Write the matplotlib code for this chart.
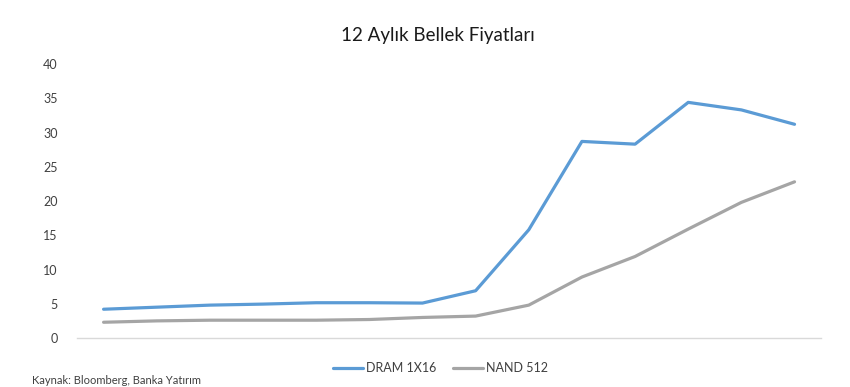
import matplotlib.pyplot as plt

# 14 monthly points, no x labels in the source chart
months = list(range(14))
dram = [4.2, 4.5, 4.8, 4.95, 5.15, 5.15, 5.1, 6.9, 15.8, 28.7, 28.3, 34.4, 33.3, 31.2]
nand = [2.3, 2.5, 2.6, 2.6, 2.6, 2.7, 3.0, 3.2, 4.8, 8.9, 11.9, 15.9, 19.8, 22.8]
y_ticks = [0, 5, 10, 15, 20, 25, 30, 35, 40]

plt.rcParams['font.family'] = ['Lato', 'DejaVu Sans']

fig = plt.figure(figsize=(8.5, 3.87), dpi=100)
ax = fig.add_axes([0.0906, 0.1266, 0.8754, 0.708])

ax.plot(months, dram, color='#5B9BD5', linewidth=2.3, label='DRAM 1X16',
        solid_joinstyle='round', solid_capstyle='round')
ax.plot(months, nand, color='#A5A5A5', linewidth=2.3, label='NAND 512',
        solid_joinstyle='round', solid_capstyle='round')

ax.set_xlim(-0.5, 13.5)
ax.set_ylim(0, 40)
ax.set_yticks(y_ticks)
ax.set_xticks([])
ax.tick_params(axis='y', length=0, pad=14, labelsize=9, labelcolor='#404040')

for s in ['top', 'right', 'left']:
    ax.spines[s].set_visible(False)
ax.spines['bottom'].set_color('#D9D9D9')
ax.spines['bottom'].set_linewidth(1)
ax.patch.set_alpha(0)

fig.text(0.515, 0.909, '12 Aylık Bellek Fiyatları', ha='center', va='center',
         fontsize=13.5, color='#1a1a1a')

fig.legend(loc='center', bbox_to_anchor=(0.518, 0.048), ncol=2, frameon=False,
           fontsize=9, handlelength=2.4, columnspacing=1.3, handletextpad=0.25,
           labelcolor='#404040')

# source note at the very bottom edge
fig.text(0.038, 0.008, 'Kaynak: Bloomberg, Banka Yatırım', ha='left', va='baseline',
         fontsize=8, color='#404040')

fig.savefig('out.png', dpi=100)
